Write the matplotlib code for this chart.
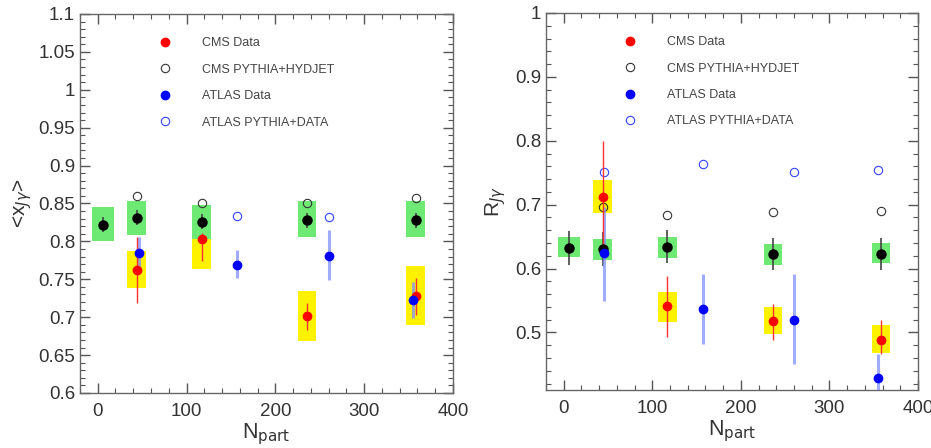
import numpy as np
import matplotlib.pyplot as plt
from matplotlib.ticker import MultipleLocator, FuncFormatter

plt.rcParams['font.family'] = ['Liberation Sans', 'DejaVu Sans']

# Npart positions
npart_ref = [6, 44, 117, 236, 358]
npart_cms = [44, 117, 236, 358]
npart_atlas = [46, 157, 260, 355]
box_halfw_ref = [12, 10.5, 10.5, 10, 10.5]
box_halfw_cms = [10.5, 10.5, 10, 10.5]

# ---- left panel: <x_Jgamma>
xj_ref = [0.822, 0.831, 0.826, 0.828, 0.828]
xj_ref_err = [0.010, 0.010, 0.010, 0.010, 0.010]
xj_ref_sys_lo = [0.800, 0.809, 0.803, 0.806, 0.806]
xj_ref_sys_hi = [0.845, 0.853, 0.848, 0.853, 0.853]

xj_cms = [0.762, 0.803, 0.702, 0.728]
xj_cms_elo = [0.043, 0.029, 0.019, 0.025]
xj_cms_ehi = [0.044, 0.008, 0.017, 0.024]
xj_cms_sys_lo = [0.738, 0.763, 0.668, 0.690]
xj_cms_sys_hi = [0.787, 0.804, 0.735, 0.767]
xj_cms_mc = [0.860, 0.851, 0.850, 0.857]

xj_atlas = [0.785, 0.769, 0.781, 0.723]
xj_atlas_elo = [0.020, 0.017, 0.032, 0.024]
xj_atlas_ehi = [0.021, 0.020, 0.034, 0.024]
npart_atlas_mc_l = [157, 260]
xj_atlas_mc = [0.834, 0.832]

# ---- right panel: R_Jgamma
r_ref = [0.632, 0.631, 0.634, 0.623, 0.623]
r_ref_err = [0.027, 0.027, 0.026, 0.025, 0.025]
r_ref_sys_lo = [0.618, 0.614, 0.617, 0.605, 0.609]
r_ref_sys_hi = [0.650, 0.647, 0.650, 0.639, 0.640]

r_cms = [0.712, 0.541, 0.518, 0.489]
r_cms_elo = [0.090, 0.048, 0.030, 0.022]
r_cms_ehi = [0.088, 0.047, 0.027, 0.030]
r_cms_sys_lo = [0.687, 0.517, 0.498, 0.468]
r_cms_sys_hi = [0.738, 0.563, 0.540, 0.511]
r_cms_mc = [0.697, 0.684, 0.688, 0.690]

r_atlas = [0.625, 0.537, 0.520, 0.429]
r_atlas_elo = [0.075, 0.055, 0.070, 0.040]
r_atlas_ehi = [0.071, 0.055, 0.072, 0.038]
r_atlas_mc = [0.751, 0.763, 0.751, 0.755]

GREEN = '#6eea74'
YELLOW = '#fff200'


def boxes(ax, x, hw, lo, hi, color, z):
    for xi, w, l, h in zip(x, hw, lo, hi):
        ax.add_patch(plt.Rectangle((xi - w, l), 2 * w, h - l, facecolor=color,
                                   edgecolor='none', zorder=z))


def panel(ax, ref, ref_err, ref_lo, ref_hi, cms, cms_elo, cms_ehi, cms_lo, cms_hi,
          cms_mc, atlas, atlas_elo, atlas_ehi, x_amc, atlas_mc, leg_x):
    boxes(ax, npart_cms, box_halfw_cms, cms_lo, cms_hi, YELLOW, 1)
    boxes(ax, npart_ref, box_halfw_ref, ref_lo, ref_hi, GREEN, 2)
    ax.plot(npart_cms, cms_mc, 'o', mfc='none', mec='#333333', ms=6, mew=0.8,
            zorder=3, label='CMS PYTHIA+HYDJET')
    ax.plot(x_amc, atlas_mc, 'o', mfc='none', mec='#3344ff', ms=6, mew=0.8,
            zorder=3, label='ATLAS PYTHIA+DATA')
    ax.errorbar(npart_ref, ref, yerr=ref_err, fmt='none', ecolor='#444444',
                elinewidth=1.2, zorder=4)
    ax.plot(npart_ref, ref, 'o', color='black', ms=6.5, zorder=5)
    ax.errorbar(npart_atlas, atlas, yerr=[atlas_elo, atlas_ehi], fmt='none',
                ecolor='#8090ff', elinewidth=2.2, alpha=0.75, zorder=4)
    ax.errorbar(npart_cms, cms, yerr=[cms_elo, cms_ehi], fmt='none',
                ecolor='#ff3030', elinewidth=1.0, zorder=4)
    ax.plot(npart_cms, cms, 'o', color='#ff0000', ms=6, zorder=6, label='CMS Data')
    ax.plot(npart_atlas, atlas, 'o', color='#0000ff', ms=6, zorder=6, label='ATLAS Data')

    h, l = ax.get_legend_handles_labels()
    order = [l.index(s) for s in ['CMS Data', 'CMS PYTHIA+HYDJET', 'ATLAS Data',
                                  'ATLAS PYTHIA+DATA']]
    leg = ax.legend([h[i] for i in order], [l[i] for i in order], loc='upper left',
                    bbox_to_anchor=(leg_x, 0.938), frameon=False, fontsize=9,
                    handlelength=1.0, handletextpad=2.45, labelspacing=1.15,
                    borderpad=0, borderaxespad=0)
    for t in leg.get_texts():
        t.set_color('#444444')

    ax.set_xlim(-20, 400)
    ax.xaxis.set_major_locator(MultipleLocator(100))
    ax.xaxis.set_minor_locator(MultipleLocator(20))
    ax.tick_params(which='both', direction='in', top=True, right=True,
                   colors='#555555', labelcolor='#333333', labelsize=13.5)
    ax.tick_params(which='major', length=7, width=1)
    ax.tick_params(which='minor', length=3.5, width=0.8)
    ax.tick_params(axis='x', pad=7)
    for s in ax.spines.values():
        s.set_color('#666666')
        s.set_linewidth(1)
    ax.set_xlabel('N$_{\\mathrm{part}}$', fontsize=15.5, color='#333333', labelpad=1)


fig = plt.figure(figsize=(9.31, 4.48), dpi=100)
ax1 = fig.add_axes([0.0859, 0.1228, 0.4006, 0.846])
ax2 = fig.add_axes([0.5865, 0.1295, 0.3996, 0.8415])

panel(ax1, xj_ref, xj_ref_err, xj_ref_sys_lo, xj_ref_sys_hi, xj_cms, xj_cms_elo,
      xj_cms_ehi, xj_cms_sys_lo, xj_cms_sys_hi, xj_cms_mc, xj_atlas, xj_atlas_elo,
      xj_atlas_ehi, npart_atlas_mc_l, xj_atlas_mc, 0.211)
panel(ax2, r_ref, r_ref_err, r_ref_sys_lo, r_ref_sys_hi, r_cms, r_cms_elo,
      r_cms_ehi, r_cms_sys_lo, r_cms_sys_hi, r_cms_mc, r_atlas, r_atlas_elo,
      r_atlas_ehi, npart_atlas, r_atlas_mc, 0.209)

fmt = FuncFormatter(lambda v, p: '%g' % round(v, 3))
ax1.set_ylim(0.6, 1.1)
ax1.yaxis.set_major_locator(MultipleLocator(0.05))
ax1.yaxis.set_minor_locator(MultipleLocator(0.01))
ax1.yaxis.set_major_formatter(fmt)
ax1.set_ylabel('<x$_{J\\gamma}$>', fontsize=15, color='#333333', labelpad=3)

ax2.set_ylim(0.41, 1.0)
ax2.yaxis.set_major_locator(MultipleLocator(0.1))
ax2.yaxis.set_minor_locator(MultipleLocator(0.02))
ax2.yaxis.set_major_formatter(fmt)
ax2.set_ylabel('R$_{J\\gamma}$', fontsize=15, color='#333333', labelpad=5)

fig.savefig('out.png', dpi=100)
